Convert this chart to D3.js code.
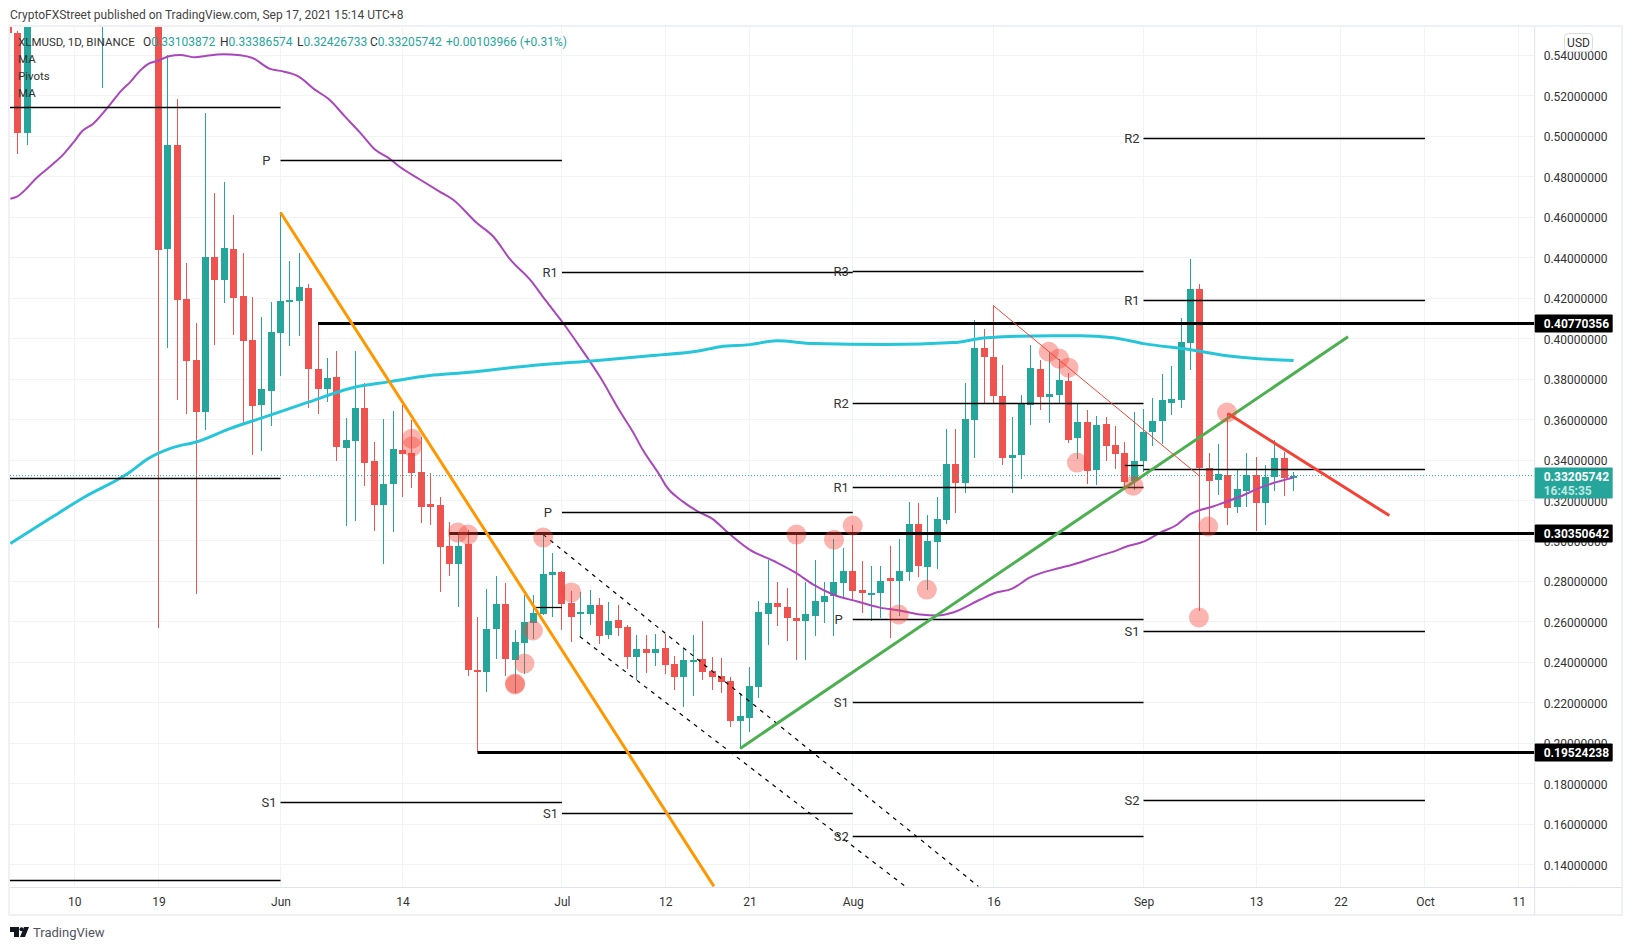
<!DOCTYPE html>
<html lang="en">
<head>
    <meta charset="UTF-8">
    <title>XLMUSD, 1D, BINANCE</title>
    <style>
        body {
            margin: 0;
            padding: 0;
            background: #ffffff;
            font-family: Roboto, Arial, sans-serif;
        }

        .tick text {
            font-family: Roboto, Arial, sans-serif;
            font-size: 12px;
            fill: #333;
        }
    </style>
</head>
<body>

<div id="chart"></div>

<script src="https://d3js.org/d3.v7.min.js"></script>
<script>
    // Daily candles, 3 May to 17 Sep 2021
    const firstCandle = "2021-05-03";

    const opens = [
        .595, .5510, .5016, .564, .585, .620, .640, .660, .640, .680, .640, .680, .730, .710, .720, .700, .680, .4439, .4956, .4195, .3894, .3633, .4402, .4289, .4442, .4210, .3992, .3671, .3740,
        .4027, .4185, .4185, .4249, .3849, .3750, .3810, .3459, .3493, .3656, .3395, .3177, .3281, .3449, .3434, .3340, .3182, .3177, .2975, .2886, .2980, .2360, .2352, .2560, .2688, .2407, .2491, .2594, .2634, .2827,
        .2846, .2693, .2634, .2634, .2683, .2535, .2609, .2570, .2426, .2461, .2446, .2466, .2387, .2323, .2403, .2412, .2357, .2328, .2303, .2110, .2120, .2278, .2634, .2693, .2673, .2619, .2604, .2629, .2698, .2723, .2792,
        .2851, .2757, .2733, .2738, .2812, .2802, .2846, .3083, .2871, .2990, .3103, .3380, .3286, .3597, .3953, .3908, .3716, .3409, .3424, .3671, .3849, .3711, .3721, .3790, .3508, .3587, .3350, .3577, .3474, .3434, .3296,
        .3395, .3538, .3592, .3681, .3696, .3977, .4244, .3360, .3301, .3325, .3167, .3246, .3325, .3187, .3316, .3409, .33103872
    ];
    const highs = [
        .600, .5519, .570, .600, .640, .660, .680, .720, .700, .760, .700, .760, .780, .790, .760, .740, .700, .5400, .5183, .4373, .4076, .5114, .4719, .4773, .4610, .4422, .4205, .4106, .4180,
        .4625, .4383, .4422, .4269, .4076, .3903, .3938, .3607, .3938, .3780, .3488, .3602, .3642, .3671, .3597, .3513, .3335, .3217, .3093, .3039, .3054, .2624, .2762, .2822, .2792, .2555, .2728, .2728, .3029, .2940,
        .2851, .2752, .2747, .2757, .2718, .2698, .2683, .2584, .2535, .2535, .2540, .2540, .2431, .2461, .2535, .2604, .2426, .2421, .2323, .2248, .2372, .2703, .2901, .2797, .2767, .3029, .2797, .2901, .2797, .3009, .2965,
        .3074, .2896, .2876, .2876, .2975, .3009, .3192, .3187, .3128, .3217, .3553, .3553, .3780, .4091, .4047, .4165, .3869, .3612, .3721, .3968, .3894, .3933, .3899, .3829, .3681, .3646, .3617, .3612, .3568, .3488, .3637,
        .3651, .3706, .3825, .3864, .4101, .4393, .4269, .3434, .3479, .3632, .3350, .3434, .3414, .3375, .3498, .3439, .33386574
    ];
    const lows = [
        .5510, .4911, .4956, .560, .575, .600, .610, .600, .620, .590, .5237, .650, .680, .640, .640, .660, .2566, .3953, .3696, .3627, .2733, .3548, .3968, .4175, .4017, .3582, .3424, .3444, .3568,
        .3815, .3963, .4012, .3656, .3627, .3686, .3395, .3069, .3098, .3271, .3049, .2886, .3044, .3217, .3261, .3088, .3074, .2743, .2822, .2673, .2328, .19524238, .2253, .2412, .2328, .2248, .2338, .2511, .2630, .2624,
        .2555, .2496, .2525, .2580, .2486, .2511, .2530, .2367, .2308, .2347, .2377, .2342, .2263, .2179, .2229, .2308, .2263, .2244, .2076, .1967, .2051, .2219, .2481, .2575, .2501, .2407, .2407, .2530, .2594, .2530, .2713,
        .2703, .2639, .2604, .2619, .2516, .2629, .2802, .2817, .2757, .2861, .3083, .3138, .3237, .3409, .3681, .3676, .3375, .3237, .3306, .3572, .3646, .3582, .3676, .3484, .3404, .3281, .3276, .3395, .3355, .3251, .3251,
        .3340, .3469, .3479, .3622, .3656, .3844, .2649, .3039, .3227, .3074, .3138, .3167, .3049, .3074, .3246, .3222, .32426733
    ];
    const closes = [
        .5510, .5016, .5640, .585, .620, .640, .660, .640, .680, .640, .680, .730, .710, .720, .700, .680, .4437, .4956, .4190, .3889, .3633, .4402, .4289, .4447, .4200, .3987, .3666, .3750, .4032,
        .4185, .4188, .4254, .3849, .3750, .3805, .3464, .3498, .3656, .3385, .3177, .3281, .3454, .3429, .3335, .3167, .3167, .2970, .2886, .2975, .2362, .2352, .2560, .2688, .2412, .2496, .2599, .2639, .2832, .2846,
        .2688, .2624, .2644, .2683, .2530, .2604, .2565, .2426, .2461, .2446, .2461, .2382, .2323, .2407, .2407, .2352, .2323, .2298, .2110, .2130, .2283, .2644, .2693, .2673, .2619, .2604, .2634, .2703, .2723, .2797, .2851,
        .2752, .2738, .2738, .2802, .2802, .2851, .3079, .2876, .2995, .3108, .3380, .3286, .3602, .3953, .3908, .3716, .3409, .3424, .3676, .3854, .3711, .3726, .3795, .3498, .3587, .3345, .3572, .3469, .3429, .3291, .3395,
        .3538, .3592, .3696, .3701, .3982, .4244, .3360, .3296, .3330, .3162, .3256, .3325, .3187, .3316, .3409, .3311, .33205742
    ];

    // Moving averages (days counted from 1 Jun)
    const purpleDays = [-28.8, -28.1, -27, -26.1, -24.6, -23, -22.1, -21.1, -20, -18.2, -16.9, -16, -15, -14.1, -13.1, -11.8, -10.7, -9.1, -8, -6.1, -4.3, -3, -1.1, 0, 1.9, 3.7, 5.1, 6.9, 8.5, 10.1, 11.5, 12.7, 14.9, 17, 18.4, 20.9, 22.7, 24.5, 26.6, 28.2, 30.1, 31.9, 34.1, 36.2, 37.6, 38.6, 40.5, 41, 42.9, 44.5, 46, 47.7, 50, 52.7, 54.9, 56.8, 58.9, 61.5, 63.9, 66, 68.2, 70.1, 71.7, 74.6, 76, 78, 79.9, 82.8, 84.5, 87.4, 88.8, 90.2, 92, 93.8, 95.6, 96.9, 99.4, 102.3, 104.7, 108];
    const purplePrices = [.4689, .4699, .4743, .4788, .4847, .4916, .4966, .5025, .5059, .5153, .5227, .5267, .5321, .5356, .5371, .5395, .5400, .5388, .5395, .5403, .5398, .5385, .5331, .5321, .5294, .5227, .5183, .5094, .5015, .4931, .4891, .4847, .4783, .4723, .4684, .4570, .4501, .4388, .4289, .4190, .4076, .3958, .3805, .3637, .3533, .3449, .3316, .3276, .3192, .3143, .3108, .3039, .2955, .2896, .2841, .2782, .2733, .2698, .2668, .2654, .2634, .2629, .2644, .2708, .2738, .2762, .2817, .2861, .2881, .2925, .2945, .2970, .2994, .3039, .3079, .3128, .3168, .3217, .3266, .3311];
    const cyanDays = [-28.8, -24.6, -20.8, -16.8, -16, -14.1, -11.5, -8.9, -5.4, -1.9, 2.8, 7.7, 11.7, 15.9, 19.5, 26.6, 34.1, 39.4, 44.7, 46.9, 50, 52.9, 56.8, 64.7, 71.7, 75.3, 82.4, 85.2, 88.8, 92, 97, 100.9, 108];
    const cyanPrices = [.2985, .3108, .3217, .3316, .3340, .3405, .3459, .3488, .3553, .3607, .3681, .3755, .3785, .3815, .3829, .3864, .3891, .3913, .3938, .3958, .3968, .3987, .3973, .3968, .3978, .4002, .4012, .4012, .4002, .3973, .3943, .3913, .3889];

    // Monthly pivot levels
    const pivotLabels = ["", "", "", "P", "S1", "R1", "P", "S1", "", "R3", "R2", "R1", "P", "S1", "S2", "R2", "R1", "", "", "S1", "S2"];
    const pivotFrom = ["2021-05-01", "2021-05-01", "2021-05-01", "2021-06-01", "2021-06-01", "2021-07-01", "2021-07-01", "2021-07-01", "2021-06-28", "2021-08-01", "2021-08-01", "2021-08-01", "2021-08-01", "2021-08-01", "2021-08-01", "2021-09-01", "2021-09-01", "2021-09-01", "2021-08-30", "2021-09-01", "2021-09-01"];
    const pivotTo = ["2021-06-01", "2021-06-01", "2021-06-01", "2021-07-01", "2021-07-01", "2021-08-01", "2021-08-01", "2021-08-01", "2021-07-01", "2021-09-01", "2021-09-01", "2021-09-01", "2021-09-01", "2021-09-01", "2021-09-01", "2021-10-01", "2021-10-01", "2021-10-01", "2021-09-01", "2021-10-01", "2021-10-01"];
    const pivotPrices = [.5142, .3309, .1323, .4882, .1705, .4328, .3141, .1652, .2670, .4332, .3680, .3265, .2613, .2203, .1540, .4987, .4188, .3354, .3372, .2550, .1715];

    // Horizontal support and resistance lines, with the day they start
    const levelPrices = [0.40770356, 0.30350642, 0.19524238];
    const levelFrom = ["2021-06-05", "2021-06-19", "2021-06-22"];

    // Drawn trend lines: [day, price] pairs, days counted from 1 Jun
    const orangeLine = [[0, .4621], [46.2, .1290]];
    const greenLine = [[49, .1972], [113.8, .4007]];
    const redLine = [[101, .3627], [118.2, .3123]];
    const thinRedLine = [[76, .4160], [97.9, .3321]];
    const channelTop = [[28, .3029], [74.4, .1290]];
    const channelBottom = [[31.9, .2525], [66.6, .1290]];

    // Marked touch points
    const markerDays = [14, 14, 18.9, 20, 28, 31, 26.9, 26, 25, 25, 55, 59, 61, 68.9, 65.9, 81.9, 83, 84, 84.9, 90.9, 98.9, 100.9, 97.9];
    const markerPrices = [.3503, .3464, .3039, .3029, .3014, .2743, .2555, .2392, .2288, .2293, .3029, .3004, .3074, .2757, .2634, .3933, .3899, .3854, .3385, .3271, .3069, .3632, .2619];

    // Axis ticks
    const priceTicks = d3.range(0.14, 0.5401, 0.02);
    const timeTicks = ["2021-05-10", "2021-05-19", "2021-06-01", "2021-06-14", "2021-07-01", "2021-07-12", "2021-07-21", "2021-08-01", "2021-08-16", "2021-09-01", "2021-09-13", "2021-09-22", "2021-10-01", "2021-10-11"];
    const timeTickLabels = ["10", "19", "Jun", "14", "Jul", "12", "21", "Aug", "16", "Sep", "13", "22", "Oct", "11"];

    const lastClose = closes[closes.length - 1];
    const upColor = "#26a69a", downColor = "#ef5350";

    const width = 1632, height = 950;
    const paneLeft = 10, paneRight = 1534.7, paneTop = 27, paneBottom = 887;

    const svg = d3.select("#chart").append("svg")
        .attr("width", width)
        .attr("height", height)
        .style("display", "block");

    const parseDay = d3.utcParse("%Y-%m-%d");
    const june1 = parseDay("2021-06-01");
    const dayMs = 86400000;

    const x = d3.scaleUtc()
        .domain([new Date(+june1 - 28.84 * dayMs), new Date(+june1 + 133.7 * dayMs)])
        .range([paneLeft, paneRight]);

    const y = d3.scaleLinear()
        .domain([0.1287, 0.5538])
        .range([paneBottom, paneTop]);

    const xDay = d => x(new Date(+june1 + d * dayMs));

    const candles = opens.map((o, i) => ({
        date: new Date(+parseDay(firstCandle) + i * dayMs),
        o, h: highs[i], l: lows[i], c: closes[i]
    }));

    // Outer frame
    svg.append("rect")
        .attr("x", 9).attr("y", 26)
        .attr("width", 1613).attr("height", 889)
        .attr("fill", "none")
        .attr("stroke", "#eff1f6")
        .attr("stroke-width", 2);

    // Grid
    const grid = svg.append("g").attr("stroke", "#f2f3f6").attr("stroke-width", 1);
    grid.selectAll(".h").data(priceTicks).enter().append("line")
        .attr("x1", paneLeft).attr("x2", paneRight)
        .attr("y1", d => Math.round(y(d)) + 0.5).attr("y2", d => Math.round(y(d)) + 0.5);
    grid.selectAll(".v").data(timeTicks).enter().append("line")
        .attr("y1", paneTop).attr("y2", paneBottom)
        .attr("x1", d => Math.floor(x(parseDay(d))) + 0.5).attr("x2", d => Math.floor(x(parseDay(d))) + 0.5);

    svg.append("defs").append("clipPath").attr("id", "pane")
        .append("rect")
        .attr("x", paneLeft).attr("y", paneTop)
        .attr("width", paneRight - paneLeft).attr("height", paneBottom - paneTop);

    const pane = svg.append("g").attr("clip-path", "url(#pane)");

    // Candles
    const candle = pane.append("g").attr("shape-rendering", "crispEdges")
        .selectAll("g").data(candles).enter().append("g")
        .attr("fill", d => d.c >= d.o ? upColor : downColor);

    candle.append("rect")
        .attr("x", d => Math.floor(x(d.date)))
        .attr("width", 1)
        .attr("y", d => y(d.h))
        .attr("height", d => y(d.l) - y(d.h));

    candle.append("rect")
        .attr("x", d => Math.floor(x(d.date)) - 3)
        .attr("width", 7)
        .attr("y", d => y(Math.max(d.o, d.c)))
        .attr("height", d => Math.max(2, Math.abs(y(d.o) - y(d.c))));

    // Moving averages
    const maLine = d3.line().x(d => xDay(d[0])).y(d => y(d[1])).curve(d3.curveMonotoneX);

    pane.append("path")
        .attr("d", maLine(d3.zip(purpleDays, purplePrices)))
        .attr("fill", "none").attr("stroke", "#ab47bc").attr("stroke-width", 2);

    pane.append("path")
        .attr("d", maLine(d3.zip(cyanDays, cyanPrices)))
        .attr("fill", "none").attr("stroke", "#26c6da").attr("stroke-width", 3);

    // Last price line
    pane.append("line")
        .attr("x1", paneLeft).attr("x2", paneRight)
        .attr("y1", y(lastClose)).attr("y2", y(lastClose))
        .attr("stroke", upColor).attr("stroke-dasharray", "1 2");

    // Pivots
    pane.selectAll(".pivot").data(pivotPrices).enter().append("line")
        .attr("class", "pivot")
        .attr("x1", (d, i) => x(parseDay(pivotFrom[i])))
        .attr("x2", (d, i) => x(parseDay(pivotTo[i])))
        .attr("y1", d => Math.round(y(d)) + 0.5)
        .attr("y2", d => Math.round(y(d)) + 0.5)
        .attr("stroke", "#000").attr("stroke-width", 1.3);

    svg.selectAll(".pivot-label").data(pivotPrices).enter().append("text")
        .attr("class", "pivot-label")
        .attr("x", (d, i) => x(parseDay(pivotFrom[i])) - (pivotLabels[i] === "P" ? 10 : 4))
        .attr("y", d => y(d) + 5)
        .attr("text-anchor", "end")
        .attr("font-size", 13)
        .attr("fill", "#333")
        .text((d, i) => pivotLabels[i]);

    // Support and resistance
    pane.selectAll(".level").data(levelPrices).enter().append("line")
        .attr("class", "level")
        .attr("x1", (d, i) => x(parseDay(levelFrom[i])))
        .attr("x2", paneRight)
        .attr("y1", d => Math.round(y(d)) + 0.5).attr("y2", d => Math.round(y(d)) + 0.5)
        .attr("stroke", "#000").attr("stroke-width", 3);

    // Trend lines
    const trend = d3.line().x(d => xDay(d[0])).y(d => y(d[1]));

    function drawTrend(points, color, strokeWidth, dash) {
        pane.append("path")
            .attr("d", trend(points))
            .attr("fill", "none")
            .attr("stroke", color)
            .attr("stroke-width", strokeWidth)
            .attr("stroke-dasharray", dash || null);
    }

    drawTrend(channelTop, "#000", 1.2, "4 5");
    drawTrend(channelBottom, "#000", 1.2, "4 5");
    drawTrend(orangeLine, "#ff9800", 3);
    drawTrend(greenLine, "#4caf50", 3);
    drawTrend(redLine, "#f44336", 3);
    drawTrend(thinRedLine, "#f44336", 1);

    // Touch markers
    pane.selectAll(".marker").data(markerPrices).enter().append("circle")
        .attr("class", "marker")
        .attr("cx", (d, i) => xDay(markerDays[i]))
        .attr("cy", d => y(d))
        .attr("r", 10)
        .attr("fill", "#f44336")
        .attr("fill-opacity", 0.4);

    // Price axis
    svg.append("line")
        .attr("x1", paneRight).attr("x2", paneRight)
        .attr("y1", paneTop).attr("y2", paneBottom + 28)
        .attr("stroke", "#e0e3eb");

    svg.append("g")
        .attr("transform", `translate(${paneRight},0)`)
        .call(d3.axisRight(y).tickValues(priceTicks).tickFormat(d3.format(".8f")).tickSize(0).tickPadding(9))
        .call(g => g.select(".domain").remove())
        .call(g => g.selectAll("text").attr("dy", "0.42em"));

    // Time axis
    svg.append("line")
        .attr("x1", paneLeft).attr("x2", 1622)
        .attr("y1", paneBottom + 0.5).attr("y2", paneBottom + 0.5)
        .attr("stroke", "#e0e3eb");

    svg.append("g")
        .attr("transform", `translate(0,${paneBottom})`)
        .call(d3.axisBottom(x)
            .tickValues(timeTicks.map(parseDay))
            .tickFormat((d, i) => timeTickLabels[i])
            .tickSize(0).tickPadding(10))
        .call(g => g.select(".domain").remove());

    // Price tags on the axis
    const tags = svg.append("g");
    levelPrices.forEach(p => {
        tags.append("rect")
            .attr("x", paneRight).attr("y", Math.round(y(p)) - 8.5)
            .attr("width", 78).attr("height", 18)
            .attr("rx", 1).attr("fill", "#000");
        tags.append("text")
            .attr("x", paneRight + 9).attr("y", y(p) + 5)
            .attr("font-size", 12).attr("font-weight", 700).attr("fill", "#fff")
            .text(d3.format(".8f")(p));
    });

    tags.append("rect")
        .attr("x", paneRight).attr("y", y(lastClose) - 8)
        .attr("width", 78).attr("height", 31)
        .attr("rx", 1).attr("fill", upColor);
    tags.append("text")
        .attr("x", paneRight + 9).attr("y", y(lastClose) + 5)
        .attr("font-size", 12).attr("font-weight", 700).attr("fill", "#fff")
        .text(d3.format(".8f")(lastClose));
    tags.append("text")
        .attr("x", paneRight + 9).attr("y", y(lastClose) + 19)
        .attr("font-size", 12).attr("font-weight", 700).attr("fill", "#bfe6e1")
        .text("16:45:35");

    // USD button
    svg.append("rect")
        .attr("x", 1564.5).attr("y", 33.5)
        .attr("width", 28).attr("height", 18)
        .attr("rx", 4).attr("fill", "#fff").attr("stroke", "#d9dbe3");
    svg.append("text")
        .attr("x", 1578.5).attr("y", 47)
        .attr("text-anchor", "middle")
        .attr("font-size", 12).attr("fill", "#333")
        .text("USD");

    // Header
    svg.append("text")
        .attr("x", 10).attr("y", 19)
        .attr("font-size", 12).attr("fill", "#444")
        .text("CryptoFXStreet published on TradingView.com, Sep 17, 2021 15:14 UTC+8");

    // Legend
    const legendRows = ["XLMUSD, 1D, BINANCE", "MA", "Pivots", "MA"];
    svg.selectAll(".legend").data(legendRows).enter().append("text")
        .attr("class", "legend")
        .attr("x", 18)
        .attr("y", (d, i) => 46 + i * 17)
        .attr("font-size", 11.5)
        .attr("fill", "#333")
        .text(d => d);

    const ohlcLabels = ["O", "H", "L", "C"];
    const ohlcValues = [opens, highs, lows, closes].map(a => a[a.length - 1]);
    const ohlcX = [143, 220, 297, 370];
    ohlcLabels.forEach((label, i) => {
        const t = svg.append("text")
            .attr("x", ohlcX[i]).attr("y", 46)
            .attr("font-size", 12).attr("fill", "#333");
        t.append("tspan").text(label);
        t.append("tspan").attr("fill", upColor).text(d3.format(".8f")(ohlcValues[i]));
    });
    svg.append("text")
        .attr("x", 446).attr("y", 46)
        .attr("font-size", 12).attr("fill", upColor)
        .text("+0.00103966 (+0.31%)");

    // Footer logo
    svg.append("path")
        .attr("d", "M10 927h9v10h-5v-5h-4z M24 927h5l-4 10h-5z")
        .attr("fill", "#131722");
    svg.append("circle")
        .attr("cx", 21.5).attr("cy", 929.2).attr("r", 2)
        .attr("fill", "#131722");
    svg.append("text")
        .attr("x", 33).attr("y", 937)
        .attr("font-size", 13).attr("fill", "#50535e")
        .text("TradingView");
</script>

</body>
</html>
